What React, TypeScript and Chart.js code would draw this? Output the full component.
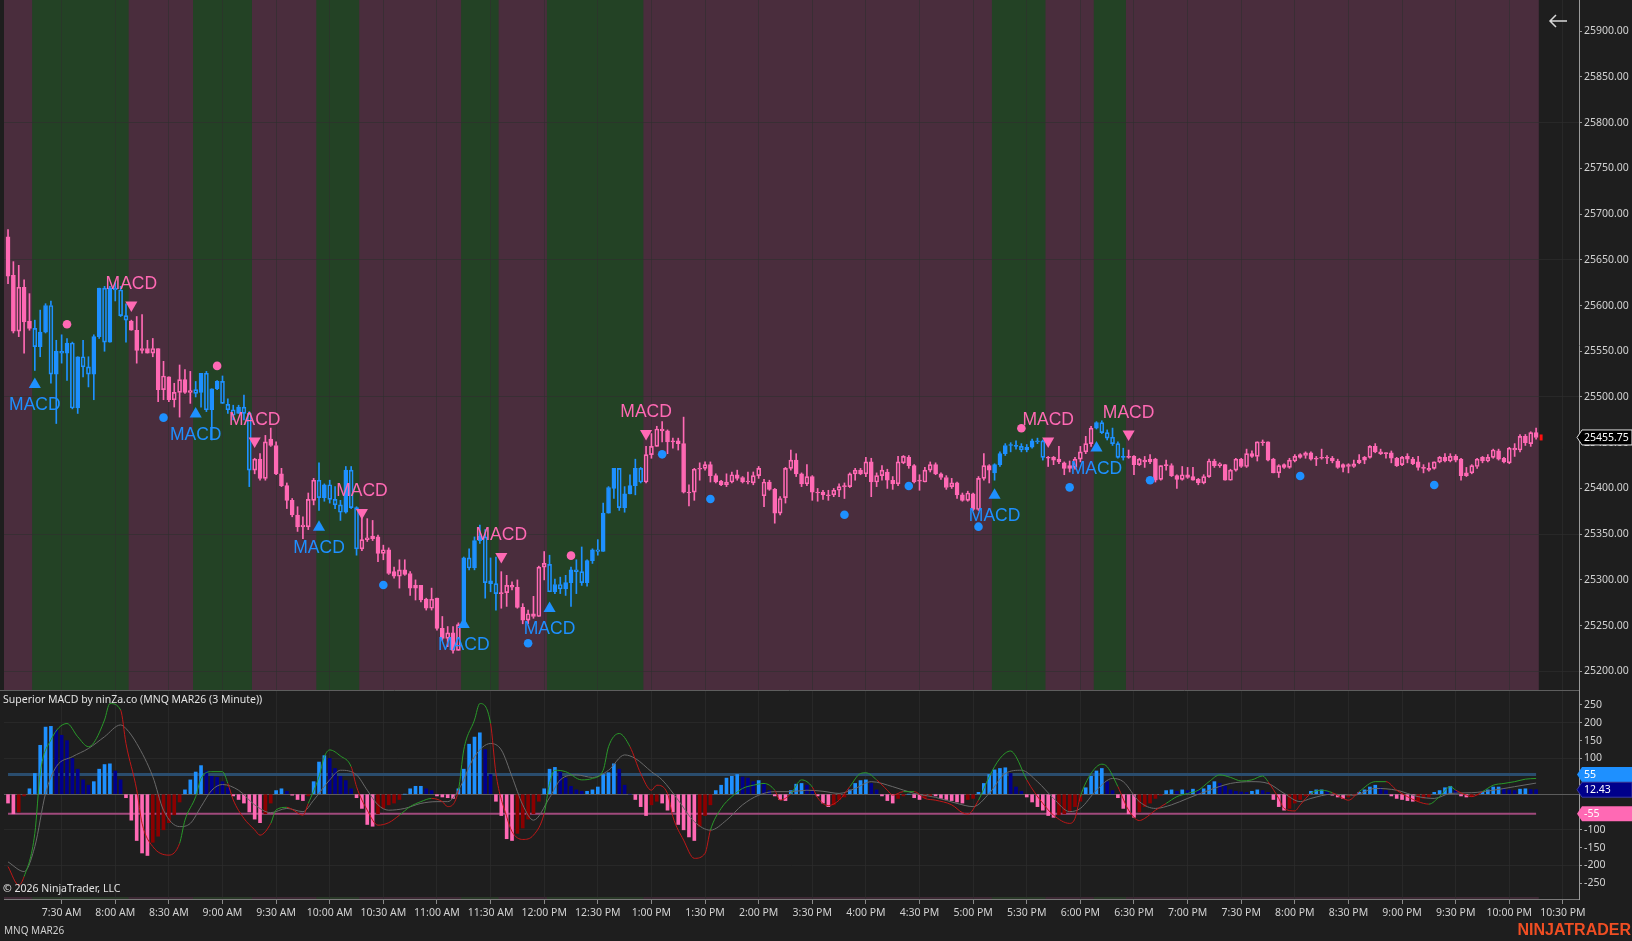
import React, { useEffect, useRef } from 'react';
import { Chart, registerables } from 'chart.js';
Chart.register(...registerables);

// ---------------- data (3-minute bars, index 0 = 7:00 AM) ----------------
const opens = [
  25675,25633,25572,25620,25583,25575,25555,25571,25600,25525,
  25550,25548,25559,25488,25544,25533,25525,25566,25619,25560,
  25619,25617,25589,25583,25573,25553,25553,25548,25553,25508,
  25522,25497,25505,25519,25505,25508,25505,25526,25486,25509,
  25517,25492,25486,25482,25489,25482,25420,25432,25411,25454,
  25447,25416,25403,25387,25371,25358,25358,25387,25409,25390,
  25404,25388,25382,25374,25420,25379,25334,25344,25348,25347,
  25329,25333,25309,25304,25311,25307,25291,25294,25279,25269,
  25280,25247,25236,25242,25223,25251,25324,25313,25343,25347,
  25299,25296,25285,25286,25294,25292,25270,25256,25263,25260,
  25314,25317,25287,25295,25290,25297,25311,25309,25297,25321,
  25333,25331,25373,25400,25422,25379,25394,25403,25422,25407,
  25437,25446,25465,25463,25452,25452,25449,25396,25396,25421,
  25422,25426,25414,25408,25404,25407,25415,25412,25407,25406,
  25414,25392,25407,25399,25373,25390,25422,25431,25416,25405,
  25413,25396,25396,25393,25393,25398,25402,25402,25416,25420,
  25416,25429,25407,25414,25418,25409,25405,25428,25434,25425,
  25409,25407,25420,25426,25416,25412,25402,25406,25393,25387,
  25394,25377,25411,25425,25417,25426,25438,25447,25446,25446,
  25442,25445,25452,25452,25434,25434,25432,25428,25422,25423,
  25432,25440,25449,25466,25472,25461,25456,25449,25434,25434,
  25435,25426,25431,25429,25432,25410,25425,25425,25414,25410,
  25415,25413,25410,25406,25413,25430,25425,25426,25409,25420,
  25432,25424,25438,25435,25451,25451,25432,25417,25426,25423,
  25430,25434,25436,25439,25433,25434,25434,25433,25430,25423,
  25426,25424,25428,25431,25434,25446,25440,25439,25439,25433,
  25426,25435,25432,25429,25423,25422,25422,25429,25434,25430,
  25435,25432,25414,25417,25424,25434,25430,25434,25441,25433,
  25428,25444,25442,25457,25449,25461,
];
const highs = [
  25683,25648,25644,25628,25613,25584,25595,25602,25605,25562,
  25568,25564,25560,25544,25562,25544,25568,25619,25621,25621,
  25625,25621,25602,25584,25588,25590,25562,25564,25553,25539,
  25522,25515,25535,25530,25528,25517,25526,25528,25509,25518,
  25523,25498,25491,25491,25502,25484,25433,25438,25458,25466,
  25451,25422,25406,25389,25380,25369,25395,25411,25428,25405,
  25409,25402,25387,25424,25424,25380,25369,25367,25365,25349,
  25338,25335,25314,25322,25322,25309,25300,25294,25280,25291,
  25280,25260,25249,25249,25253,25325,25334,25347,25360,25355,
  25324,25325,25309,25305,25298,25300,25274,25267,25282,25315,
  25331,25327,25301,25303,25305,25314,25322,25336,25322,25334,
  25344,25384,25402,25422,25422,25402,25415,25432,25423,25446,
  25460,25468,25473,25464,25455,25455,25478,25404,25422,25428,
  25429,25429,25416,25409,25416,25418,25420,25413,25418,25418,
  25424,25410,25409,25400,25391,25423,25442,25438,25417,25426,
  25414,25400,25398,25398,25400,25405,25406,25417,25422,25422,
  25434,25433,25417,25425,25421,25413,25435,25436,25436,25426,
  25415,25423,25429,25428,25417,25414,25411,25407,25395,25397,
  25395,25413,25438,25426,25427,25440,25449,25450,25452,25449,
  25448,25454,25455,25453,25435,25435,25446,25429,25430,25434,
  25446,25457,25468,25473,25474,25464,25466,25451,25444,25442,
  25436,25433,25435,25437,25433,25425,25431,25427,25415,25424,
  25423,25423,25411,25415,25432,25432,25428,25426,25421,25433,
  25433,25443,25441,25451,25453,25451,25433,25426,25427,25433,
  25437,25438,25440,25440,25435,25443,25436,25435,25432,25427,
  25427,25431,25437,25435,25447,25449,25443,25439,25441,25434,
  25435,25438,25434,25435,25426,25428,25429,25435,25438,25438,
  25437,25433,25423,25426,25433,25435,25437,25443,25443,25434,
  25445,25449,25459,25459,25462,25466,
];
const lows = [
  25624,25570,25566,25548,25573,25529,25544,25570,25515,25471,
  25537,25518,25487,25482,25522,25511,25497,25564,25550,25560,
  25605,25588,25560,25573,25537,25548,25548,25544,25495,25497,
  25495,25489,25478,25504,25493,25500,25489,25484,25453,25508,
  25493,25482,25475,25482,25475,25402,25416,25409,25409,25446,
  25415,25402,25378,25369,25353,25345,25355,25382,25376,25386,
  25384,25378,25365,25373,25378,25327,25332,25342,25343,25320,
  25322,25306,25302,25291,25305,25283,25278,25276,25267,25267,
  25245,25234,25227,25220,25223,25249,25311,25311,25340,25280,
  25287,25267,25269,25271,25289,25269,25252,25252,25258,25260,
  25300,25287,25285,25285,25283,25271,25285,25294,25293,25318,
  25327,25331,25373,25389,25376,25374,25394,25393,25406,25406,
  25433,25446,25451,25438,25444,25442,25395,25381,25387,25409,
  25420,25407,25406,25403,25402,25406,25409,25406,25405,25404,
  25411,25380,25398,25362,25371,25384,25420,25413,25402,25403,
  25387,25386,25388,25387,25391,25391,25389,25401,25409,25415,
  25413,25391,25402,25409,25400,25399,25403,25427,25422,25406,
  25398,25407,25418,25415,25410,25399,25400,25389,25386,25386,
  25376,25376,25409,25406,25409,25424,25436,25440,25443,25440,
  25440,25444,25449,25431,25424,25426,25427,25415,25418,25421,
  25429,25438,25446,25465,25460,25453,25447,25433,25431,25433,
  25415,25425,25423,25427,25407,25409,25420,25413,25400,25409,
  25411,25409,25404,25405,25412,25423,25423,25409,25409,25419,
  25423,25423,25434,25430,25447,25430,25417,25412,25422,25422,
  25429,25433,25433,25431,25425,25432,25427,25428,25422,25418,
  25417,25423,25427,25427,25433,25439,25437,25433,25428,25424,
  25425,25428,25426,25420,25417,25419,25421,25428,25429,25429,
  25429,25409,25413,25416,25422,25428,25429,25433,25431,25428,
  25427,25435,25440,25447,25446,25454,
];
const closes = [
  25632,25572,25620,25582,25575,25555,25571,25600,25525,25550,
  25548,25559,25488,25544,25533,25525,25566,25619,25560,25619,
  25617,25589,25584,25573,25551,25551,25548,25553,25508,25523,
  25497,25505,25519,25505,25507,25504,25526,25486,25509,25517,
  25493,25486,25480,25489,25482,25420,25432,25411,25451,25447,
  25416,25403,25387,25371,25358,25360,25388,25409,25390,25404,
  25388,25382,25374,25420,25379,25334,25344,25346,25345,25329,
  25333,25307,25304,25311,25306,25291,25294,25278,25269,25279,
  25247,25236,25242,25223,25251,25324,25313,25343,25348,25297,
  25296,25285,25286,25294,25292,25270,25256,25263,25260,25314,
  25318,25287,25295,25290,25297,25311,25309,25297,25321,25333,
  25331,25373,25401,25422,25379,25394,25403,25422,25407,25437,
  25446,25465,25463,25451,25451,25449,25396,25395,25421,25422,
  25426,25414,25407,25404,25407,25415,25411,25407,25408,25414,
  25422,25407,25399,25373,25389,25422,25431,25416,25405,25413,
  25396,25395,25393,25392,25398,25402,25403,25416,25420,25416,
  25429,25407,25414,25420,25409,25405,25429,25435,25425,25407,
  25408,25420,25426,25416,25412,25401,25406,25393,25387,25395,
  25377,25411,25425,25420,25426,25438,25447,25448,25447,25442,
  25445,25452,25451,25434,25433,25431,25429,25422,25425,25432,
  25440,25449,25466,25472,25461,25455,25449,25434,25434,25435,
  25426,25432,25429,25432,25409,25425,25425,25414,25410,25415,
  25412,25409,25406,25413,25430,25425,25427,25409,25420,25432,
  25424,25438,25435,25451,25450,25431,25417,25425,25423,25431,
  25435,25437,25439,25432,25432,25433,25433,25430,25423,25426,
  25424,25427,25431,25434,25446,25440,25438,25438,25433,25425,
  25434,25432,25427,25423,25422,25420,25429,25434,25430,25435,
  25431,25414,25417,25425,25432,25430,25434,25442,25432,25429,
  25444,25442,25457,25450,25461,25455.75,
];

// trend state bands (bar-index boundaries): green = up-trend, everything else = down-trend
const upTrendBands = [
  [4.5, 22.5], [34.5, 45.5], [57.5, 65.5], [84.5, 91.5],
  [100.5, 118.5], [183.5, 193.5], [202.5, 208.5],
];
const bandsEnd = 285.5;

const xTickIdx = [10,20,30,40,50,60,70,80,90,100,110,120,130,140,150,160,170,180,190,200,210,220,230,240,250,260,270,280,290];
const xTickLabels = [
  '7:30 AM','8:00 AM','8:30 AM','9:00 AM','9:30 AM','10:00 AM','10:30 AM','11:00 AM','11:30 AM',
  '12:00 PM','12:30 PM','1:00 PM','1:30 PM','2:00 PM','3:30 PM','4:00 PM','4:30 PM','5:00 PM',
  '5:30 PM','6:00 PM','6:30 PM','7:00 PM','7:30 PM','8:00 PM','8:30 PM','9:00 PM','9:30 PM',
  '10:00 PM','10:30 PM',
];
const priceTicks = [25200,25250,25300,25350,25400,25450,25500,25550,25600,25650,25700,25750,25800,25850,25900];
const macdTicks = [-250,-200,-150,-100,-50,0,50,100,150,200,250];

// Superior MACD histogram (one value per bar)
const histogram = [
  -25,-55,-50,-5,15,58,137,188,190,180,
  165,150,100,70,40,25,35,70,83,85,
  65,40,-10,-73,-130,-165,-172,-135,-118,-100,
  -80,-58,-22,12,40,62,80,65,50,47,
  35,18,-5,-15,-25,-50,-70,-80,-55,-25,
  10,15,8,-3,-15,-18,-5,35,90,108,
  100,72,50,38,15,-10,-40,-85,-90,-55,
  -40,-30,-25,-15,0,15,22,22,15,10,
  -5,-8,-10,-12,15,70,140,160,172,125,
  55,-20,-60,-125,-130,-110,-95,-70,-55,-20,
  15,70,75,62,45,22,12,8,8,12,
  20,55,60,85,70,25,0,-15,-35,-60,
  -30,-20,-25,-45,-50,-85,-100,-120,-130,-90,
  -60,-30,10,25,45,50,55,48,45,35,
  38,28,10,-5,-15,-18,10,28,30,25,
  10,-5,-25,-35,-30,-15,-8,12,30,38,
  40,30,12,-5,-18,-25,-12,-5,0,-10,
  -15,-10,-5,-5,-12,-15,-18,-22,-25,-15,
  -12,5,30,55,68,72,74,58,20,8,
  -8,-22,-35,-45,-60,-65,-58,-55,-50,-35,
  -20,18,50,65,72,35,10,-10,-40,-55,
  -65,-50,-35,-25,-12,-3,10,12,8,12,
  10,14,10,15,25,35,30,22,12,8,
  6,5,8,12,10,5,-15,-35,-45,-40,
  -25,-15,-5,8,12,12,8,-3,-8,-12,
  -8,-3,5,12,20,25,18,10,-5,-12,
  -15,-18,-20,-18,-12,-8,5,10,18,22,
  10,-5,-8,-5,-2,5,12,20,20,15,
  12,10,14,15,13,12.43,
];

// MACD line (read at these bar indices)
const macdIdx = [0,2,3,5,6,8,11,13,15,16,18,19,21,22,24,25,27,30,32,33,35,36,38,40,41,42,44,46,47,49,50,52,53,55,56,58,59,60,62,64,65,67,69,71,73,75,77,79,81,82,84,85,87,88,90,91,93,94,96,98,100,101,102,104,107,109,111,112,114,116,118,120,121,123,124,126,128,130,131,133,135,137,139,141,143,144,146,148,150,151,153,155,157,159,160,162,164,165,167,169,171,173,176,178,179,181,183,185,187,188,190,193,195,198,199,200,202,204,205,207,209,211,212,214,216,218,220,222,224,226,228,230,232,234,235,237,238,240,241,243,245,247,249,250,252,255,257,259,261,263,265,267,269,270,272,273,275,277,279,281,283,285];
const macdVal = [-203,-255,-231,-110,58,152,198,161,133,144,208,254,236,142,12,-82,-147,-171,-138,-73,-7,44,63,63,30,-16,-68,-100,-115,-82,-44,-37,-43,-59,-26,49,105,124,107,77,21,-45,-87,-80,-59,-35,-21,-12,-21,-35,11,124,208,254,198,58,-63,-105,-127,-115,-54,30,67,63,40,44,67,133,170,133,58,11,25,2,-63,-129,-180,-166,-101,-40,-7,16,25,30,11,-17,1,40,20,-10,-32,-17,21,58,60,40,11,-3,7,7,-12,-17,-30,-52,-56,-17,49,100,121,105,40,-26,-59,-82,-68,-7,58,84,77,21,-45,-74,-68,-45,-26,-7,2,11,35,54,47,37,40,51,35,-12,-40,-47,-30,2,11,4,-12,-17,7,35,35,11,-7,-21,-28,-7,21,11,-3,-7,7,25,30,35,42,44];

// signal line (read at these bar indices)
const sigIdx = [0,3,5,7,9,12,15,18,21,22,24,27,29,32,34,36,38,40,43,46,49,52,55,57,60,62,65,67,69,71,74,77,80,82,84,87,90,92,94,96,98,101,103,106,109,112,115,117,120,122,125,128,131,134,137,140,143,146,149,152,155,158,161,165,169,173,177,180,183,186,189,192,195,198,200,203,206,208,211,214,217,220,224,228,232,235,238,241,243,247,251,255,259,263,266,269,273,277,281,285];
const sigVal = [-190,-217,-147,2,77,105,128,161,194,184,142,49,-45,-91,-82,-35,11,27,11,-30,-52,-40,-49,-17,40,67,54,11,-30,-45,-40,-26,-21,-21,11,105,142,124,49,-30,-73,-10,40,54,47,67,110,100,63,40,-17,-77,-101,-73,-30,-3,7,7,11,8,2,16,35,21,2,-9,-26,-35,2,58,67,35,-12,-49,-40,11,44,35,-21,-40,-30,-12,11,30,35,30,2,-21,-12,0,-3,16,11,-7,-12,2,4,11,21,31];

// signal markers
const upSigIdx = [5, 35, 58, 85, 101, 184, 203];
const upSigPrice = [25513.7, 25481.4, 25357.6, 25251.2, 25268.7, 25392.5, 25444.2];
const dnSigIdx = [23, 46, 66, 92, 119, 194, 209];
const dnSigPrice = [25600.6, 25451.9, 25373.7, 25325.6, 25460.1, 25451.9, 25459.5];
const blueDotIdx = [29, 70, 97, 122, 131, 156, 168, 181, 198, 213, 241, 266];
const blueDotPrice = [25477.4, 25294.4, 25230.7, 25437.3, 25388.5, 25371.3, 25402.7, 25358.2, 25401.2, 25409, 25413.6, 25403.8];
const pinkDotIdx = [11, 39, 105, 189];
const pinkDotPrice = [25579.5, 25534, 25326.5, 25465.8];

const upperLevel = 55;
const lowerLevel = -55;
const lastPrice = 25455.75;
const lastHist = 12.43;

// ---------------- styles ----------------
const BG = '#1e1e1e';
const MAROON = '#4a2d3d';
const GREEN_BG = '#234225';
const BLUE = '#1E90FF';
const PINK = '#FF69B4';
const NAVY = '#00008B';
const DARKRED = '#8B0000';
const GRID = 'rgba(46,46,46,0.6)';
const TXT = '#d2d2d2';
const FONT = '"Noto Sans", "DejaVu Sans", sans-serif';

Chart.defaults.font.family = FONT;

const N = Math.min(opens.length, highs.length, lows.length, closes.length);
const isUp = (i: number) => upTrendBands.some(([a, b]) => i > a && i < b);

function buildChart(canvas: HTMLCanvasElement) {
  const idx = Array.from({ length: N }, (_, i) => i);
  const col = idx.map((i) => (isUp(i) ? BLUE : PINK));
  const filled = idx.map((i) => (isUp(i) ? closes[i] >= opens[i] : closes[i] <= opens[i]));
  const bodyData = idx.map((i) => ({ x: i, y: [Math.min(opens[i], closes[i]), Math.max(opens[i], closes[i])] }));
  const upWick = idx.map((i) => {
    const t = Math.max(opens[i], closes[i]);
    return { x: i, y: [t, Math.max(t, highs[i])] };
  });
  const loWick = idx.map((i) => {
    const b = Math.min(opens[i], closes[i]);
    return { x: i, y: [Math.min(b, lows[i]), b] };
  });
  const histCol = histogram.map((v, i) => {
    const p = i > 0 ? histogram[i - 1] : 0;
    if (v >= 0) return v >= p ? BLUE : NAVY;
    return v <= p ? PINK : DARKRED;
  });

  const overlay = {
    id: 'overlay',
    beforeDraw(chart: any) {
      const { ctx, scales } = chart;
      const xs = scales.x, ys = scales.y;
      const left = chart.chartArea.left;
      const xe = xs.getPixelForValue(bandsEnd);
      ctx.save();
      const drawBands = (top: number, h: number) => {
        ctx.fillStyle = MAROON;
        ctx.fillRect(left, top, xe - left, h);
        ctx.fillStyle = GREEN_BG;
        for (const [a, b] of upTrendBands) {
          const pa = xs.getPixelForValue(a), pb = xs.getPixelForValue(b);
          ctx.fillRect(pa, top, pb - pa, h);
        }
      };
      drawBands(ys.top, ys.bottom - ys.top);
      ctx.globalAlpha = 0.7;
      drawBands(chart.chartArea.bottom - 2, 2);
      ctx.restore();
    },
    afterDatasetsDraw(chart: any) {
      const { ctx, scales } = chart;
      const xs = scales.x, ys = scales.y;
      ctx.save();
      ctx.font = '17.5px "Liberation Sans", Arial, sans-serif';
      ctx.textAlign = 'center';
      ctx.textBaseline = 'middle';
      ctx.fillStyle = BLUE;
      upSigIdx.forEach((i, k) => {
        ctx.fillText('MACD', xs.getPixelForValue(i), ys.getPixelForValue(upSigPrice[k]) + 21);
      });
      ctx.fillStyle = PINK;
      dnSigIdx.forEach((i, k) => {
        ctx.fillText('MACD', xs.getPixelForValue(i), ys.getPixelForValue(dnSigPrice[k]) - 21);
      });
      ctx.restore();
    },
    afterDraw(chart: any) {
      const { ctx, scales, chartArea } = chart;
      const xs = scales.x, ys = scales.y, y2 = scales.y2;
      ctx.save();
      // pane separator
      ctx.strokeStyle = '#5e5e5e';
      ctx.lineWidth = 1;
      ctx.beginPath();
      ctx.moveTo(0, Math.round(ys.bottom) + 0.5);
      ctx.lineTo(chartArea.right, Math.round(ys.bottom) + 0.5);
      ctx.stroke();

      // titles
      ctx.fillStyle = '#e2e2e2';
      ctx.font = '10.5px ' + FONT;
      ctx.textAlign = 'left';
      ctx.textBaseline = 'middle';
      ctx.fillText('Superior MACD by ninZa.co (MNQ MAR26 (3 Minute))', 3, y2.top + 10);
      ctx.fillText('\u00A9 2026 NinjaTrader, LLC', 3, y2.bottom - 10);
      ctx.fillStyle = '#cfcfcf';
      ctx.font = '10px ' + FONT;
      ctx.fillText('MNQ MAR26', 4, 931);
      ctx.fillStyle = '#F04E23';
      ctx.font = 'bold 16px "Liberation Sans", Arial, sans-serif';
      ctx.textAlign = 'right';
      ctx.fillText('NINJATRADER', 1631, 931);

      // back arrow
      ctx.strokeStyle = '#d8d8d8';
      ctx.lineWidth = 1.5;
      ctx.beginPath();
      ctx.moveTo(1567, 21);
      ctx.lineTo(1550, 21);
      ctx.moveTo(1556, 15);
      ctx.lineTo(1550, 21);
      ctx.lineTo(1556, 27);
      ctx.stroke();

      // last price marker on chart
      const lx = xs.getPixelForValue(N - 1) + 5;
      const ly = ys.getPixelForValue(lastPrice);
      ctx.fillStyle = '#ff1010';
      ctx.fillRect(lx - 1.5, ly - 3, 3, 6);

      // value tags on the axes
      const tag = (yMid: number, text: string, bg: string, fg: string, border?: string) => {
        const x0 = 1577, x1 = 1632, h = 15, tip = 5;
        ctx.beginPath();
        ctx.moveTo(x0, yMid);
        ctx.lineTo(x0 + tip, yMid - h / 2);
        ctx.lineTo(x1, yMid - h / 2);
        ctx.lineTo(x1, yMid + h / 2);
        ctx.lineTo(x0 + tip, yMid + h / 2);
        ctx.closePath();
        ctx.fillStyle = bg;
        ctx.fill();
        if (border) {
          ctx.strokeStyle = border;
          ctx.lineWidth = 1;
          ctx.stroke();
        }
        ctx.fillStyle = fg;
        ctx.font = '10.5px ' + FONT;
        ctx.textAlign = 'left';
        ctx.textBaseline = 'middle';
        ctx.fillText(text, x0 + 7, yMid + 0.5);
      };
      tag(ys.getPixelForValue(lastPrice), lastPrice.toFixed(2), '#000000', '#ffffff', '#e0e0e0');
      tag(y2.getPixelForValue(upperLevel), String(upperLevel), BLUE, '#ffffff');
      tag(y2.getPixelForValue(lastHist), lastHist.toFixed(2), NAVY, '#ffffff', '#3a3aa0');
      tag(y2.getPixelForValue(lowerLevel), String(lowerLevel), PINK, '#ffffff');
      ctx.restore();
    },
  };

  const tickFont = { family: FONT, size: 10.5 };

  return new Chart(canvas, {
    type: 'bar',
    data: {
      datasets: [
        // markers (top-most)
        {
          type: 'scatter', label: 'up', xAxisID: 'x', yAxisID: 'y', order: 1,
          data: upSigIdx.map((i, k) => ({ x: i, y: upSigPrice[k] })),
          pointStyle: 'triangle', pointRadius: 7, backgroundColor: BLUE, borderWidth: 0,
        },
        {
          type: 'scatter', label: 'down', xAxisID: 'x', yAxisID: 'y', order: 1,
          data: dnSigIdx.map((i, k) => ({ x: i, y: dnSigPrice[k] })),
          pointStyle: 'triangle', rotation: 180, pointRadius: 7, backgroundColor: PINK, borderWidth: 0,
        },
        {
          type: 'scatter', label: 'bdot', xAxisID: 'x', yAxisID: 'y', order: 1,
          data: blueDotIdx.map((i, k) => ({ x: i, y: blueDotPrice[k] })),
          pointStyle: 'circle', pointRadius: 4.3, backgroundColor: BLUE, borderWidth: 0,
        },
        {
          type: 'scatter', label: 'pdot', xAxisID: 'x', yAxisID: 'y', order: 1,
          data: pinkDotIdx.map((i, k) => ({ x: i, y: pinkDotPrice[k] })),
          pointStyle: 'circle', pointRadius: 4.3, backgroundColor: PINK, borderWidth: 0,
        },
        // candles
        {
          type: 'bar', label: 'body', xAxisID: 'x', yAxisID: 'y', order: 3, grouped: false,
          data: bodyData, barThickness: 4, minBarLength: 1,
          backgroundColor: idx.map((i) => (filled[i] ? col[i] : 'rgba(0,0,0,0)')),
          borderColor: col, borderWidth: 1, borderSkipped: false,
        },
        {
          type: 'bar', label: 'wickU', xAxisID: 'x', yAxisID: 'y', order: 4, grouped: false,
          data: upWick, barThickness: 1, backgroundColor: col, borderWidth: 0,
        },
        {
          type: 'bar', label: 'wickL', xAxisID: 'x', yAxisID: 'y', order: 4, grouped: false,
          data: loWick, barThickness: 1, backgroundColor: col, borderWidth: 0,
        },
        // MACD pane
        {
          type: 'line', label: 'macd', xAxisID: 'x', yAxisID: 'y2', order: 5,
          data: macdIdx.map((i, k) => ({ x: i, y: macdVal[k] })),
          borderColor: '#2a9a2a', borderWidth: 1, pointRadius: 0, cubicInterpolationMode: 'monotone',
          segment: {
            borderColor: (c: any) => {
              const m = Math.round((c.p0.parsed.x + c.p1.parsed.x) / 2);
              return (histogram[m] ?? 0) >= 0 ? '#2a9a2a' : '#c01818';
            },
          },
        },
        {
          type: 'line', label: 'signal', xAxisID: 'x', yAxisID: 'y2', order: 6,
          data: sigIdx.map((i, k) => ({ x: i, y: sigVal[k] })),
          borderColor: '#6a6a6a', borderWidth: 1, pointRadius: 0, cubicInterpolationMode: 'monotone',
        },
        {
          type: 'bar', label: 'hist', xAxisID: 'x', yAxisID: 'y2', order: 7, grouped: false,
          data: histogram.map((v, i) => ({ x: i, y: v })), barThickness: 3,
          backgroundColor: histCol, borderWidth: 0,
        },
        {
          type: 'line', label: 'lvlUp', xAxisID: 'x', yAxisID: 'y2', order: 8,
          data: [{ x: 0, y: upperLevel }, { x: N - 1, y: upperLevel }],
          borderColor: '#2a4d6e', borderWidth: 3, pointRadius: 0,
        },
        {
          type: 'line', label: 'lvlDn', xAxisID: 'x', yAxisID: 'y2', order: 8,
          data: [{ x: 0, y: lowerLevel }, { x: N - 1, y: lowerLevel }],
          borderColor: '#a04a7c', borderWidth: 2, pointRadius: 0,
        },
      ] as any,
    },
    options: {
      responsive: false,
      animation: false,
      devicePixelRatio: 1,
      events: [],
      layout: { autoPadding: false, padding: { left: 4, right: 0, top: 0, bottom: 0 } },
      plugins: { legend: { display: false }, tooltip: { enabled: false } },
      scales: {
        x: {
          type: 'linear', position: 'bottom', min: -0.75, max: 293, offset: false,
          afterBuildTicks: (s: any) => { s.ticks = xTickIdx.map((v) => ({ value: v })); },
          afterFit: (s: any) => { s.height = 42; s.paddingLeft = 0; s.paddingRight = 0; },
          ticks: {
            autoSkip: false, maxRotation: 0, minRotation: 0, color: TXT, font: tickFont, padding: 3,
            callback: (_v: any, i: number) => xTickLabels[i] ?? '',
          },
          grid: { offset: false, color: GRID, tickColor: '#8a8a8a', tickLength: 5, drawTicks: true },
          border: { color: '#7a7a7a' },
        },
        y: {
          type: 'linear', position: 'right', stack: 'pane', stackWeight: 690,
          min: 25179.6, max: 25934.1, offset: false,
          afterBuildTicks: (s: any) => { s.ticks = priceTicks.map((v) => ({ value: v })); },
          afterFit: (s: any) => { s.width = 53; s.paddingTop = 0; s.paddingBottom = 0; },
          ticks: {
            autoSkip: false, color: TXT, font: tickFont, padding: 2,
            callback: (v: any) => Number(v).toFixed(2),
          },
          grid: {
            color: (c: any) => (c.tick && c.tick.value % 150 === 0 ? GRID : 'rgba(0,0,0,0)'),
            tickColor: '#9a9a9a', tickLength: 3,
          },
          border: { color: '#9a9a9a' },
        },
        y2: {
          type: 'linear', position: 'right', stack: 'pane', stackWeight: 209,
          min: -294, max: 292, offset: false,
          afterBuildTicks: (s: any) => { s.ticks = macdTicks.map((v) => ({ value: v })); },
          afterFit: (s: any) => { s.width = 53; s.paddingTop = 0; s.paddingBottom = 0; },
          ticks: {
            autoSkip: false, color: TXT, font: tickFont, padding: 2,
            callback: (v: any) => (Math.abs(Number(v)) <= 50 ? '' : String(v)),
          },
          grid: {
            color: (c: any) => {
              const v = c.tick ? c.tick.value : 1;
              if (v === 0) return '#5c5c5c';
              return v % 100 === 0 ? GRID : 'rgba(0,0,0,0)';
            },
            tickColor: '#9a9a9a', tickLength: 3,
          },
          border: { color: '#9a9a9a' },
        },
      } as any,
    },
    plugins: [overlay],
  } as any);
}

export default function App() {
  const ref = useRef<HTMLCanvasElement>(null);
  useEffect(() => {
    document.body.style.margin = '0';
    document.body.style.background = BG;
    const chart = buildChart(ref.current as HTMLCanvasElement);
    return () => chart.destroy();
  }, []);
  return (
    <div style={{ position: 'fixed', left: 0, top: 0, width: 1632, height: 941, background: BG }}>
      <canvas ref={ref} width={1632} height={941} style={{ width: 1632, height: 941, display: 'block' }} />
    </div>
  );
}
